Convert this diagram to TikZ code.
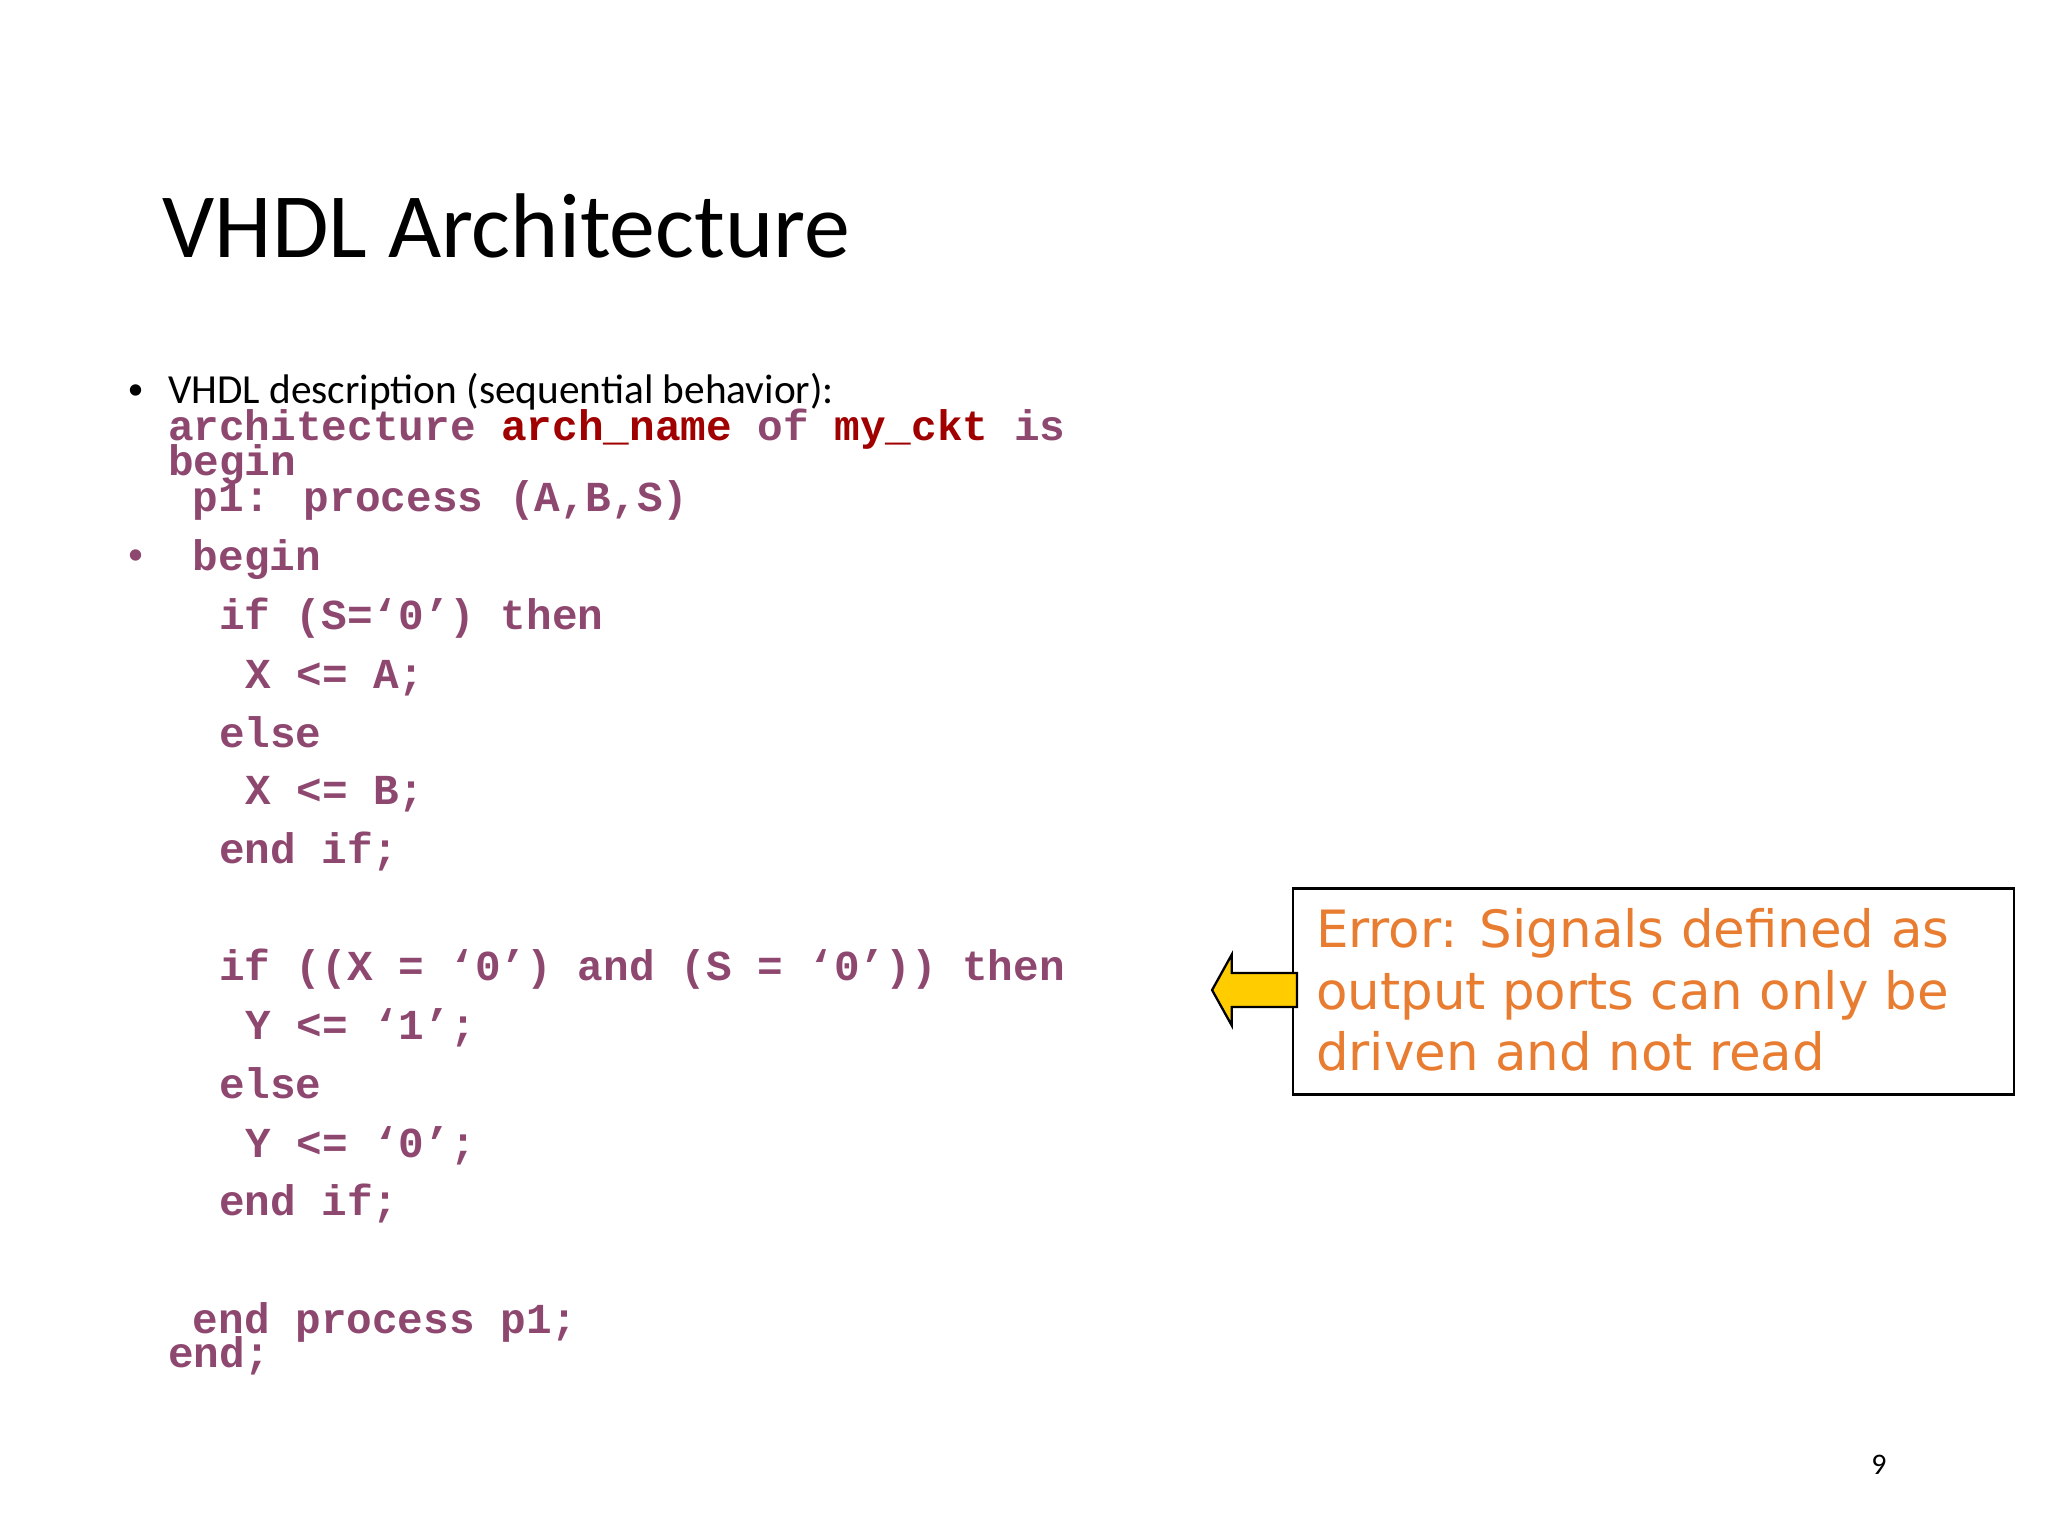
\documentclass[tikz,border=0pt]{standalone}
\usepackage{fontspec}
\setmainfont{Carlito}
\newfontfamily\codef{Liberation Mono}
\newfontfamily\errf{DejaVu Sans}
\definecolor{code}{RGB}{142,72,112}
\definecolor{kred}{RGB}{160,0,0}
\definecolor{err}{RGB}{232,125,50}
\definecolor{arr}{RGB}{255,204,0}
\begin{document}
\begin{tikzpicture}[x=0.01cm,y=-0.01cm,
  cl/.style={anchor=base west,inner sep=0,text=code,font=\codef\bfseries\fontsize{9.3}{10}\selectfont},
  bl/.style={anchor=base west,inner sep=0}]
\useasboundingbox (0,0) rectangle (1568,1176);
\node[bl,font=\fontsize{20}{24}\selectfont] (title) at (124,197) {VHDL Architecture};
\node[bl,font=\fontsize{7}{11}\selectfont] (b1) at (97,306) {•};
\node[bl,font=\fontsize{9}{11}\selectfont] (desc) at (128,309) {VHDL description (sequential behavior):};
\node[cl] (l1) at (128,337) {architecture \textcolor{kred}{arch\_name} of \textcolor{kred}{my\_ckt} is};
\node[cl] (l2) at (128,364) {begin};
\node[cl] (l3) at (147,392) {p1: process (A,B,S)};
\node[cl,font=\fontsize{7}{11}\selectfont] (b2) at (97,432) {•};
\node[cl] (l4) at (147,437) {begin};
\node[cl] (l5) at (167,482) {if (S=‘0’) then};
\node[cl] (l6) at (187,527) {X <= A;};
\node[cl] (l7) at (167,572) {else};
\node[cl] (l8) at (187,616) {X <= B;};
\node[cl] (l9) at (167,661) {end if;};
\node[cl] (l10) at (167,751) {if ((X = ‘0’) and (S = ‘0’)) then};
\node[cl] (l11) at (187,796) {Y <= ‘1’;};
\node[cl] (l12) at (167,841) {else};
\node[cl] (l13) at (187,886) {Y <= ‘0’;};
\node[cl] (l14) at (167,931) {end if;};
\node[cl] (l15) at (147,1021) {end process p1;};
\node[cl] (l16) at (128,1047) {end;};
\draw[black,line width=0.6pt] (990,680) rectangle (1542,838);
\node[anchor=north west,inner sep=0,align=left,text=err,font=\errf\fontsize{11.2}{13.4}\selectfont] (e) at (1007,695) {Error: Signals defined as\\output ports can only be\\driven and not read};
\draw[fill=arr,line width=0.5pt] (993,745) -- (943,745) -- (943,731) -- (928,758) -- (943,785) -- (943,771) -- (993,771) -- cycle;
\node[bl,font=\fontsize{6.5}{8}\selectfont] (pg) at (1432,1129) {9};
\end{tikzpicture}
\end{document}
